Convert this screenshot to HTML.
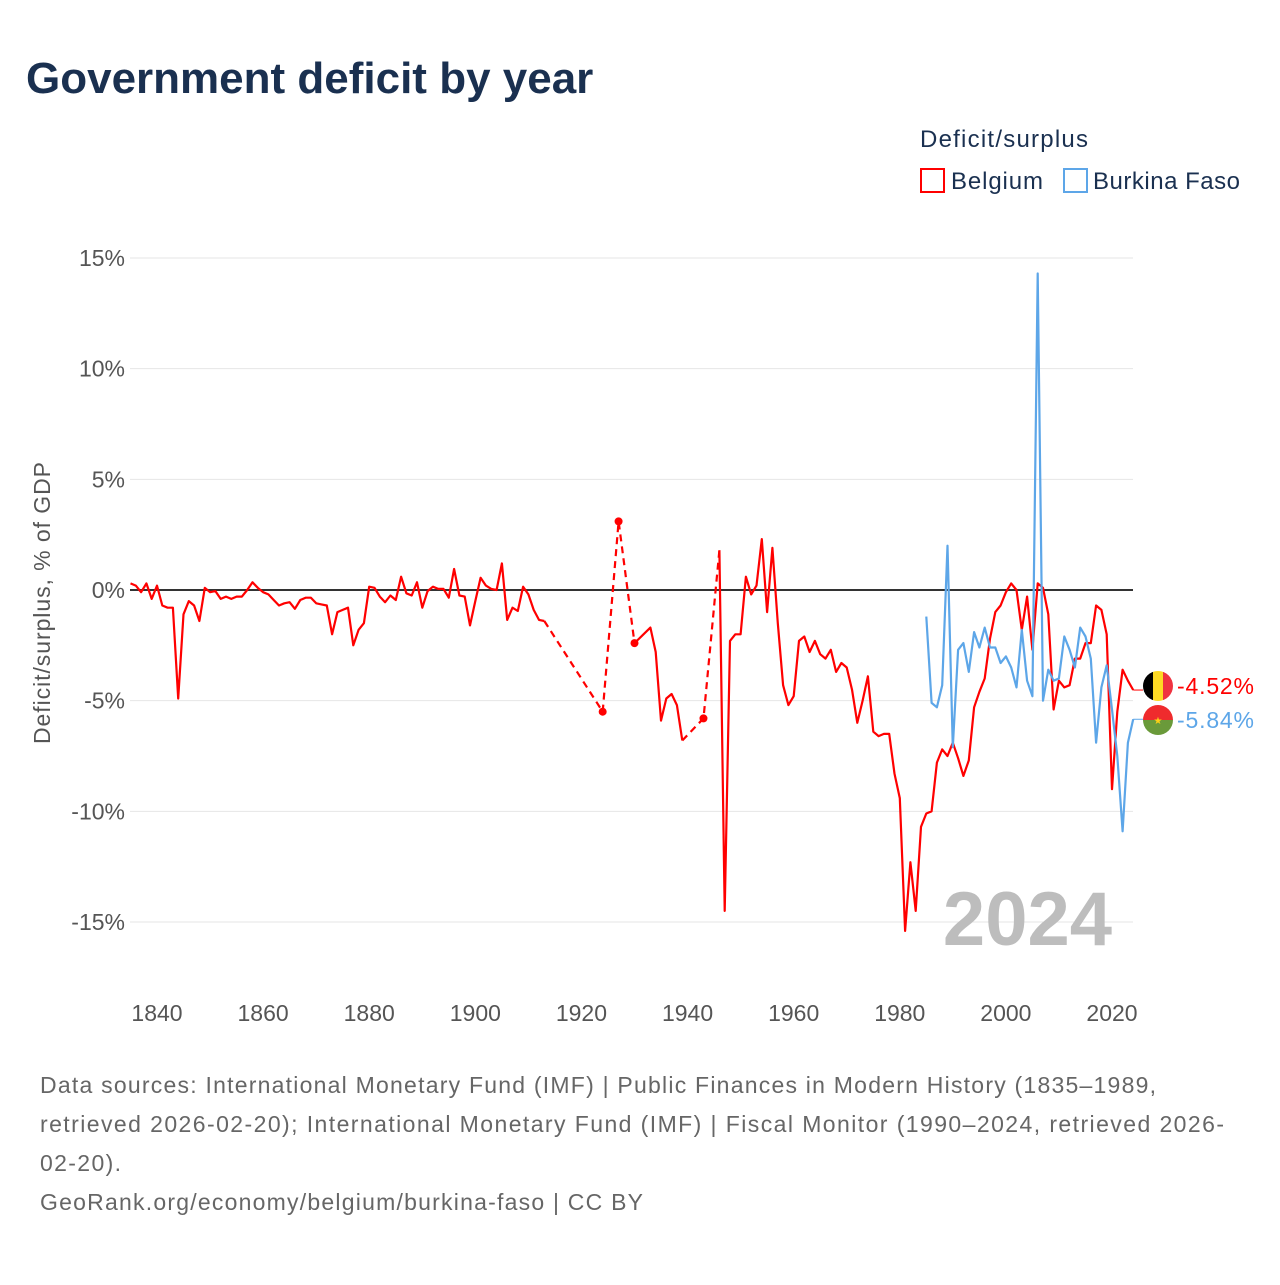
<!DOCTYPE html>
<html><head><meta charset="utf-8"><style>
body{margin:0;background:#fff;width:1280px;height:1280px;overflow:hidden;font-family:"Liberation Sans",sans-serif}
</style></head><body>
<svg id="chart" width="1280" height="1280" xmlns="http://www.w3.org/2000/svg" font-family="Liberation Sans, sans-serif">
<text x="26" y="93" font-size="44" font-weight="bold" fill="#1a3050">Government deficit by year</text>
<text x="920" y="147" font-size="24" fill="#1a3050" textLength="168">Deficit/surplus</text>
<g><rect x="921" y="169" width="23" height="23" fill="none" stroke="#ff0000" stroke-width="2"/><text x="951" y="189" font-size="24" fill="#1a3050" textLength="92">Belgium</text></g>
<g><rect x="1064" y="169" width="23" height="23" fill="none" stroke="#5da6e8" stroke-width="2"/><text x="1093" y="189" font-size="24" fill="#1a3050" textLength="147">Burkina Faso</text></g>
<text transform="translate(50,603) rotate(-90)" text-anchor="middle" font-size="23" fill="#555" textLength="282">Deficit/surplus, % of GDP</text>
<g id="grid"></g><g id="marks"></g>
<text x="1112" y="945" text-anchor="end" font-size="76" font-weight="bold" fill="#bdbdbd">2024</text>
<g><clipPath id="c1"><circle cx="1158" cy="686" r="15"/></clipPath><g clip-path="url(#c1)"><rect x="1143" y="671" width="10" height="30" fill="#000"/><rect x="1153" y="671" width="10" height="30" fill="#fdda24"/><rect x="1163" y="671" width="10" height="30" fill="#ef3340"/></g></g>
<g><clipPath id="c2"><circle cx="1158" cy="720" r="15"/></clipPath><g clip-path="url(#c2)"><rect x="1143" y="705" width="30" height="15" fill="#ef2b2d"/><rect x="1143" y="720" width="30" height="15" fill="#6a9a3a"/></g><text x="1158" y="724" font-size="10" text-anchor="middle" fill="#fcd116">★</text></g>
<text x="1177" y="694" font-size="23" fill="#ff0000" textLength="77">-4.52%</text>
<text x="1177" y="728" font-size="23" fill="#5da6e8" textLength="77">-5.84%</text>
<g font-size="23" fill="#666">
<text x="40" y="1093" textLength="1116">Data sources: International Monetary Fund (IMF) | Public Finances in Modern History (1835–1989,</text>
<text x="40" y="1132" textLength="1184">retrieved 2026-02-20); International Monetary Fund (IMF) | Fiscal Monitor (1990–2024, retrieved 2026-</text>
<text x="40" y="1171" textLength="81">02-20).</text>
<text x="40" y="1210" textLength="603">GeoRank.org/economy/belgium/burkina-faso | CC BY</text>
</g>
</svg>
<script>
const yTicks=[15,10,5,0,-5,-10,-15];
const xTicks=[1840,1860,1880,1900,1920,1940,1960,1980,2000,2020];
const belgiumYearsA=[1835,1836,1837,1838,1839,1840,1841,1842,1843,1844,1845,1846,1847,1848,1849,1850,1851,1852,1853,1854,1855,1856,1857,1858,1859,1860,1861,1862,1863,1864,1865,1866,1867,1868,1869,1870,1871,1872,1873,1874,1875,1876,1877,1878,1879,1880,1881,1882,1883,1884,1885,1886,1887,1888,1889,1890,1891,1892,1893,1894,1895,1896,1897,1898,1899,1900,1901,1902,1903,1904,1905,1906,1907,1908,1909,1910,1911,1912,1913];
const belgiumValuesA=[0.3,0.2,-0.1,0.3,-0.4,0.2,-0.7,-0.8,-0.8,-4.9,-1.1,-0.5,-0.7,-1.4,0.1,-0.1,-0.05,-0.4,-0.3,-0.4,-0.3,-0.3,0.0,0.35,0.1,-0.1,-0.2,-0.45,-0.7,-0.6,-0.55,-0.85,-0.45,-0.35,-0.35,-0.6,-0.65,-0.7,-2.0,-1.0,-0.9,-0.8,-2.5,-1.8,-1.5,0.15,0.1,-0.3,-0.55,-0.25,-0.45,0.6,-0.15,-0.25,0.35,-0.8,-0.05,0.15,0.05,0.05,-0.35,0.95,-0.25,-0.3,-1.6,-0.5,0.55,0.2,0.05,0.0,1.2,-1.35,-0.8,-0.95,0.15,-0.2,-0.9,-1.35,-1.4];
const belgiumYearsB=[1930,1933,1934,1935,1936,1937,1938,1939];
const belgiumValuesB=[-2.4,-1.7,-2.8,-5.9,-4.9,-4.7,-5.2,-6.8];
const belgiumYearsC=[1946,1947,1948,1949,1950,1951,1952,1953,1954,1955,1956,1957,1958,1959,1960,1961,1962,1963,1964,1965,1966,1967,1968,1969,1970,1971,1972,1973,1974,1975,1976,1977,1978,1979,1980,1981,1982,1983,1984,1985,1986,1987,1988,1989,1990,1991,1992,1993,1994,1995,1996,1997,1998,1999,2000,2001,2002,2003,2004,2005,2006,2007,2008,2009,2010,2011,2012,2013,2014,2015,2016,2017,2018,2019,2020,2021,2022,2023,2024];
const belgiumValuesC=[1.8,-14.5,-2.3,-2.0,-2.0,0.6,-0.2,0.2,2.3,-1.0,1.9,-1.5,-4.3,-5.2,-4.8,-2.3,-2.1,-2.8,-2.3,-2.9,-3.1,-2.7,-3.7,-3.3,-3.5,-4.5,-6.0,-5.0,-3.9,-6.4,-6.6,-6.5,-6.5,-8.3,-9.4,-15.4,-12.3,-14.5,-10.7,-10.1,-10.0,-7.8,-7.2,-7.5,-6.9,-7.6,-8.4,-7.7,-5.3,-4.6,-4.0,-2.2,-1.0,-0.7,-0.1,0.3,0.0,-1.8,-0.3,-2.7,0.3,0.1,-1.1,-5.4,-4.1,-4.4,-4.3,-3.1,-3.1,-2.4,-2.4,-0.7,-0.9,-2.0,-9.0,-5.5,-3.6,-4.1,-4.52];
const belgiumIsolatedYears=[1924,1927,1930,1943];
const belgiumIsolatedValues=[-5.5,3.1,-2.4,-5.8];
const bfYears=[1985,1986,1987,1988,1989,1990,1991,1992,1993,1994,1995,1996,1997,1998,1999,2000,2001,2002,2003,2004,2005,2006,2007,2008,2009,2010,2011,2012,2013,2014,2015,2016,2017,2018,2019,2020,2021,2022,2023,2024];
const bfValues=[-1.2,-5.1,-5.3,-4.3,2.0,-7.1,-2.7,-2.4,-3.7,-1.9,-2.6,-1.7,-2.6,-2.6,-3.3,-3.0,-3.5,-4.4,-1.8,-4.1,-4.8,14.3,-5.0,-3.6,-4.1,-4.0,-2.1,-2.7,-3.5,-1.7,-2.1,-3.1,-6.9,-4.4,-3.4,-5.4,-7.5,-10.9,-6.9,-5.84];

const NS="http://www.w3.org/2000/svg";
const X=y=>157+(y-1840)*(1112-157)/180;
const Y=v=>590-v*(590-258)/15;
const grid=document.getElementById('grid'),marks=document.getElementById('marks');
function mk(tag,attrs,parent){const e=document.createElementNS(NS,tag);for(const k in attrs)e.setAttribute(k,attrs[k]);parent.appendChild(e);return e;}
yTicks.forEach(t=>{
  const l=mk('line',{x1:130,x2:1133,y1:Y(t),y2:Y(t),stroke:t===0?'#333':'#e6e6e6','stroke-width':t===0?2:1},grid);
  
  
  const tx=mk('text',{x:125,y:Y(t)+8,'text-anchor':'end','font-size':23,fill:'#555'},grid);
  tx.textContent=t+'%';
  
  
});
xTicks.forEach(t=>{
  const tx=mk('text',{x:X(t),y:1021,'text-anchor':'middle','font-size':23,fill:'#555'},grid);
  tx.textContent=t;
  
  
});
function line(ys,vs,color,dash,name){
  const d=ys.map((y,i)=>(i?'L':'M')+X(y).toFixed(1)+','+Y(vs[i]).toFixed(1)).join('');
  const p=mk('path',{d:d,fill:'none',stroke:color,'stroke-width':2.2,'stroke-linejoin':'round'},marks);
  if(dash)p.setAttribute('stroke-dasharray','7,5');
  
  
}
const gy=[belgiumYearsA[belgiumYearsA.length-1],...belgiumIsolatedYears.slice(0,3)];
const gv=[belgiumValuesA[belgiumValuesA.length-1],...belgiumIsolatedValues.slice(0,3)];
line(gy,gv,'#ff0000',true,'belgium-gap-line');
line([belgiumYearsB[belgiumYearsB.length-1],belgiumIsolatedYears[3],belgiumYearsC[0]],[belgiumValuesB[belgiumValuesB.length-1],belgiumIsolatedValues[3],belgiumValuesC[0]],'#ff0000',true,'belgium-gap-line');
line(belgiumYearsA,belgiumValuesA,'#ff0000',false,'belgium-line');
line(belgiumYearsB,belgiumValuesB,'#ff0000',false,'belgium-line');
line(belgiumYearsC,belgiumValuesC,'#ff0000',false,'belgium-line');
line(bfYears,bfValues,'#5da6e8',false,'burkina-faso-line');
belgiumIsolatedYears.forEach((y,i)=>{
  const c=mk('circle',{cx:X(y),cy:Y(belgiumIsolatedValues[i]),r:4,fill:'#ff0000'},marks);
  
  
});
const lb=belgiumValuesC[belgiumValuesC.length-1], lf=bfValues[bfValues.length-1];
mk('line',{x1:X(2024),x2:1143,y1:Y(lb),y2:Y(lb),stroke:'#ff0000','stroke-width':1},marks);
mk('line',{x1:X(2024),x2:1143,y1:Y(lf),y2:Y(lf),stroke:'#5da6e8','stroke-width':1},marks);
</script>
</body></html>
